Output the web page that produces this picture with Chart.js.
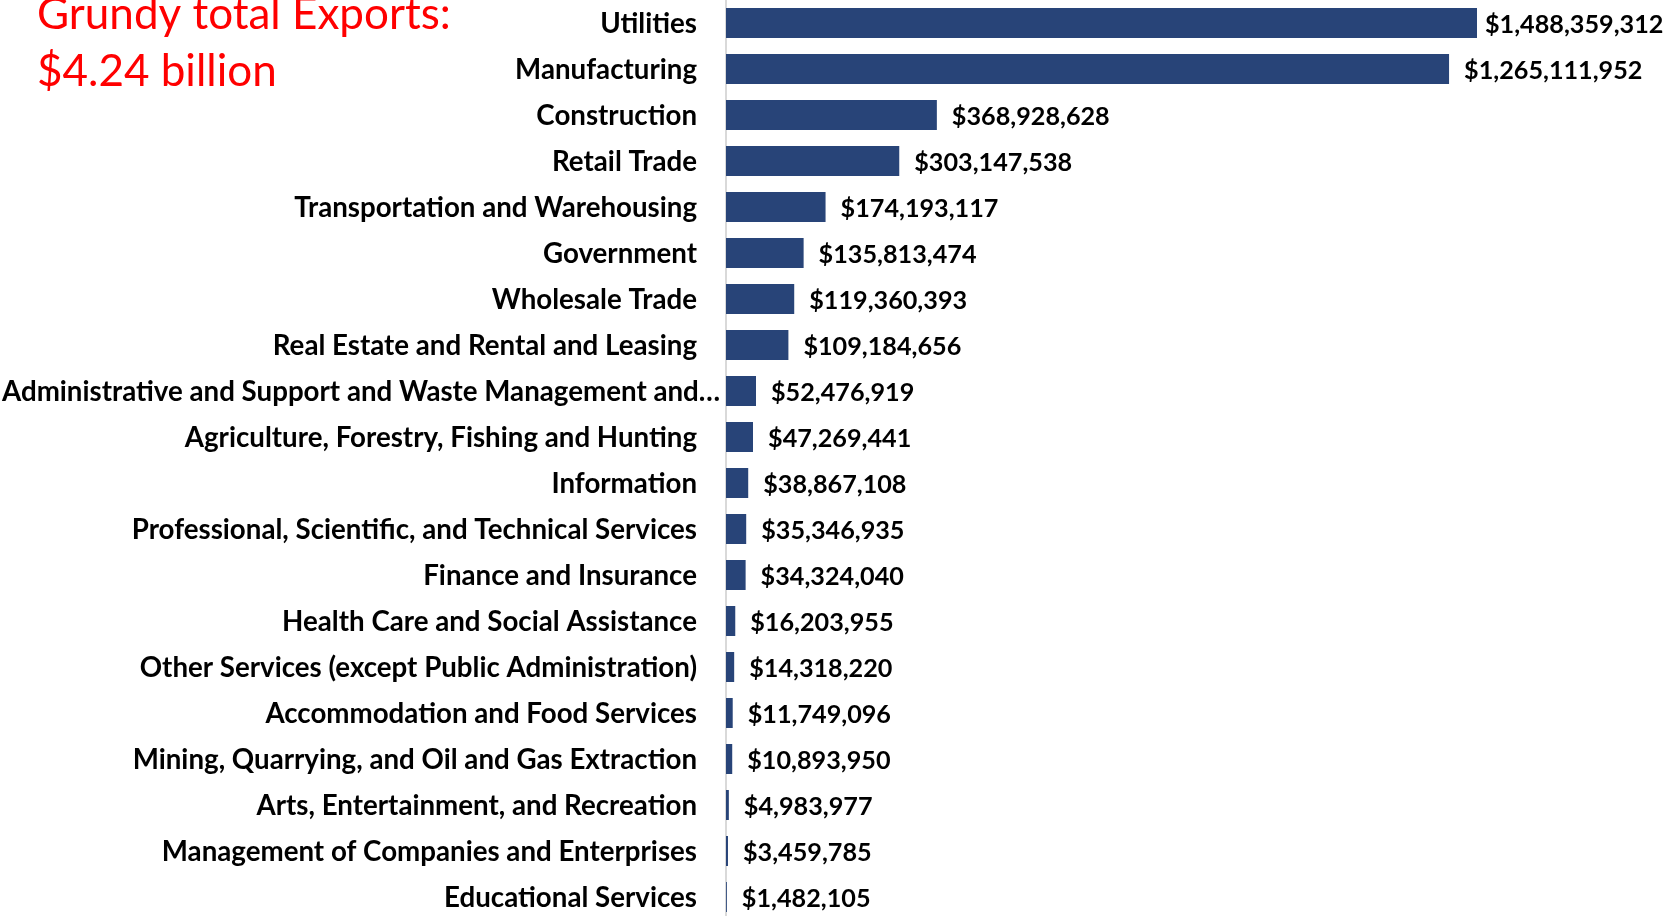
<!DOCTYPE html>
<html>
<head>
<meta charset="utf-8">
<script src="https://cdn.jsdelivr.net/npm/chart.js@4"></script>
<style>
    html, body { margin: 0; padding: 0; background: #fff; overflow: hidden; }
    #wrap { width: 1667px; height: 920px; position: relative; }
</style>
</head>
<body>
<div id="wrap"><canvas id="myChart"></canvas></div>
<script>
const titleLines = ['Grundy total Exports:', '$4.24 billion'];

const categories = [
    'Utilities', 'Manufacturing', 'Construction', 'Retail Trade',
    'Transportation and Warehousing', 'Government', 'Wholesale Trade',
    'Real Estate and Rental and Leasing',
    'Administrative and Support and Waste Management and…',
    'Agriculture, Forestry, Fishing and Hunting', 'Information',
    'Professional, Scientific, and Technical Services', 'Finance and Insurance',
    'Health Care and Social Assistance', 'Other Services (except Public Administration)',
    'Accommodation and Food Services', 'Mining, Quarrying, and Oil and Gas Extraction',
    'Arts, Entertainment, and Recreation', 'Management of Companies and Enterprises',
    'Educational Services'
];

const exports = [
    1488359312, 1265111952, 368928628, 303147538, 174193117, 135813474, 119360393,
    109184656, 52476919, 47269441, 38867108, 35346935, 34324040, 16203955,
    14318220, 11749096, 10893950, 4983977, 3459785, 1482105
];

// axis range as set in the original (Utilities runs past it)
const xMin = 0;
const xMax = 1314000000;

const fmt = v => '$' + v.toLocaleString('en-US');

const labelFont = 'bold 27.7px Lato';
const valueFont = 'bold 25.2px Lato';
const titleFont = '44px Lato';

const labelsPlugin = {
    id: 'labelsPlugin',
    afterDraw(chart) {
        const ctx = chart.ctx;
        const yScale = chart.scales.y;
        const meta = chart.getDatasetMeta(0);
        const area = chart.chartArea;
        ctx.save();
        ctx.fillStyle = '#000';
        ctx.textBaseline = 'middle';

        // category names
        ctx.font = labelFont;
        categories.forEach((name, i) => {
            const y = yScale.getPixelForTick(i) + 1;
            const w = ctx.measureText(name).width;
            const right = area.left - 29;
            if (w > right - 2) {
                ctx.textAlign = 'left';
                ctx.fillText(name, 2, y);
            } else {
                ctx.textAlign = 'right';
                ctx.fillText(name, right, y);
            }
        });

        // values at bar ends
        ctx.font = valueFont;
        ctx.textAlign = 'left';
        meta.data.forEach((bar, i) => {
            const txt = fmt(exports[i]);
            const w = ctx.measureText(txt).width;
            let x = Math.min(bar.x, area.right) + 15;
            if (x + w > chart.width - 5) x = Math.min(bar.x, area.right) + 8;
            ctx.fillText(txt, x, bar.y + 2);
        });

        // title
        ctx.font = titleFont;
        ctx.fillStyle = '#ff0000';
        ctx.textBaseline = 'alphabetic';
        ctx.fillText(titleLines[0], 37, 29);
        ctx.fillText(titleLines[1], 37, 86);
        ctx.restore();
    }
};

const ctx = document.getElementById('myChart').getContext('2d');
const myChart = new Chart(ctx, {
    type: 'bar',
    data: {
        labels: categories,
        datasets: [{
            data: exports,
            backgroundColor: '#284478',
            borderWidth: 0,
            barPercentage: 0.652,
            categoryPercentage: 1
        }]
    },
    options: {
        indexAxis: 'y',
        responsive: true,
        maintainAspectRatio: false,
        animation: false,
        layout: { padding: { left: 726, right: 190, top: 0, bottom: 0 } },
        plugins: {
            legend: { display: false },
            tooltip: { enabled: false }
        },
        scales: {
            x: {
                display: false,
                min: xMin,
                max: xMax
            },
            y: {
                grid: { display: false },
                border: { display: true, color: '#d9d9d9', width: 2 },
                ticks: { display: false },
                afterFit: scale => { scale.width = 0; }
            }
        }
    },
    plugins: [labelsPlugin]
});
</script>
</body>
</html>
